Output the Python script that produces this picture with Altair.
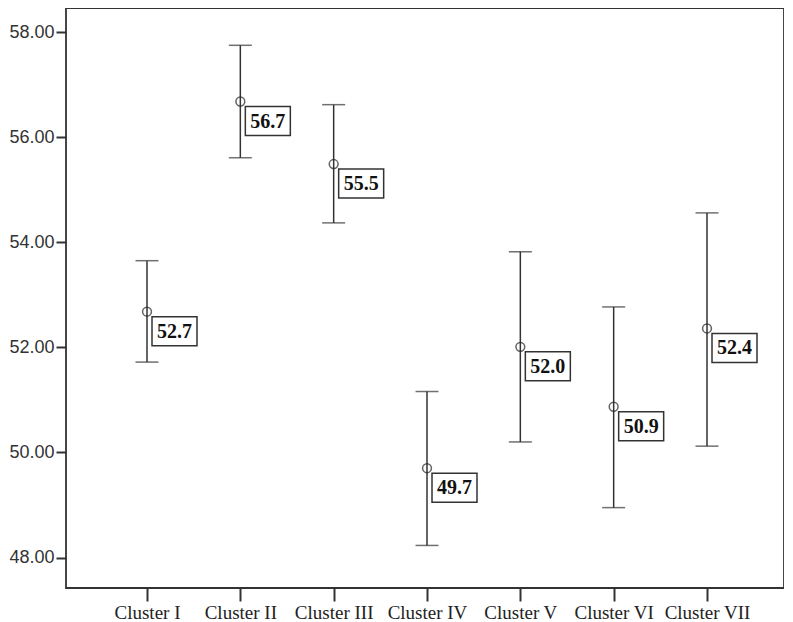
import altair as alt
import pandas as pd

clusters = ["Cluster I", "Cluster II", "Cluster III", "Cluster IV",
            "Cluster V", "Cluster VI", "Cluster VII"]
means = [52.68, 56.68, 55.49, 49.70, 52.01, 50.87, 52.36]
upper = [53.65, 57.75, 56.62, 51.16, 53.82, 52.77, 54.56]
lower = [51.72, 55.61, 54.37, 48.23, 50.20, 48.95, 50.12]
y_ticks = [48, 50, 52, 54, 56, 58]

df = pd.DataFrame({"cluster": clusters, "mean": means, "upper": upper, "lower": lower})

INK = "#333333"

x = alt.X("cluster:N", sort=clusters, title=None,
          scale=alt.Scale(type="point", range=[81, 641], padding=0),
          axis=alt.Axis(labelAngle=0, labelFont="Liberation Serif", labelFontSize=19,
                        labelColor="#222222", tickColor=INK, tickSize=13, tickWidth=2,
                        labelPadding=2, domain=False, grid=False))
yscale = alt.Scale(domain=[47.42, 58.46], nice=False, zero=False)
y_axis = alt.Axis(values=y_ticks, format=".2f", labelFont="Liberation Sans",
                  labelFontSize=18, labelColor="#333333", tickColor=INK, tickSize=10,
                  tickWidth=2, labelPadding=2, domain=False, grid=False)

base = alt.Chart(df)

rules = base.mark_rule(color=INK, strokeWidth=1.5).encode(
    x=x, y=alt.Y("lower:Q", scale=yscale, axis=y_axis, title=None), y2="upper:Q")
cap_hi = base.mark_tick(color=INK, size=23, thickness=1.5).encode(
    x=x, y=alt.Y("upper:Q", scale=yscale))
cap_lo = base.mark_tick(color=INK, size=23, thickness=1.5).encode(
    x=x, y=alt.Y("lower:Q", scale=yscale))
pts = base.mark_point(shape="circle", filled=False, size=78, color="#222222",
                      strokeWidth=1.5).encode(x=x, y=alt.Y("mean:Q", scale=yscale))
boxes = base.mark_rect(width=45, height=29, xOffset=27.5, yOffset=19.5, fill="white",
                       stroke=INK, strokeWidth=1.5).encode(
    x=x, y=alt.Y("mean:Q", scale=yscale))
labels = base.mark_text(dx=27.5, dy=20, font="Liberation Serif", fontWeight="bold",
                        fontSize=20, color="#111111", align="center",
                        baseline="middle").encode(
    x=x, y=alt.Y("mean:Q", scale=yscale), text=alt.Text("mean:Q", format=".1f"))

chart = alt.layer(rules, cap_hi, cap_lo, pts, boxes, labels).properties(
    width=718, height=580,
    autosize=alt.AutoSizeParams(type="none"),
    padding={"left": 58, "top": 0, "right": 0, "bottom": 40},
).configure(background="white").configure_view(stroke=INK, strokeWidth=1.8)

chart.save("out.html", embed_options={"renderer": "svg", "actions": False})
